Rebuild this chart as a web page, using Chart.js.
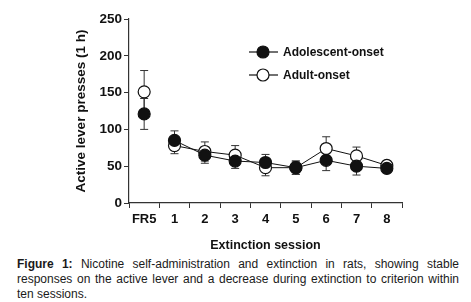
<!DOCTYPE html>
<html>
<head>
<meta charset="utf-8">
<script src="https://cdn.jsdelivr.net/npm/chart.js@4/dist/chart.umd.min.js"></script>
<style>
    html, body {margin: 0; padding: 0; background: #fff;}
    #wrap {position: relative; width: 471px; height: 302px; overflow: hidden;}
    #chart-box {position: absolute; left: 0; top: 0; width: 471px; height: 257px;}
    .caption {position: absolute; left: 17px; width: 442px; font: 12px "Liberation Sans", Arial, sans-serif; color: #1a1a1a;}
    .caption div {text-align: justify; text-align-last: justify; height: 15px; line-height: 15px; white-space: nowrap;}
    .caption div.last {text-align-last: left;}
</style>
</head>
<body>
<div id="wrap">
    <div id="chart-box"><canvas id="extinction-chart" width="471" height="257"></canvas></div>
    <div class="caption" style="top: 257px;">
        <div><b>Figure 1:</b> Nicotine self-administration and extinction in rats, showing stable</div>
        <div>responses on the active lever and a decrease during extinction to criterion within</div>
        <div class="last">ten sessions.</div>
    </div>
</div>
<script>
    const sessions = ['FR5', '1', '2', '3', '4', '5', '6', '7', '8'];
    const adolescentMean = [121, 85, 65, 57, 55, 48, 58, 50, 47];
    const adolescentSem = [21, 13, 11, 10, 11, 9, 14, 12, 6];
    const adultMean = [151, 78, 70, 65, 48, 48, 74, 64, 51];
    const adultSem = [29, 11, 13, 13, 11, 9, 16, 12, 6];
    const yTicks = [0, 50, 100, 150, 200, 250];

    const FONT = '"Liberation Sans", Arial, sans-serif';
    const INK = '#111';

    // error bars drawn under the markers
    const errorBars = {
        id: 'errorBars',
        beforeDatasetsDraw(chart) {
            const ctx = chart.ctx;
            const y = chart.scales.y;
            ctx.save();
            ctx.strokeStyle = '#333';
            ctx.lineWidth = 1;
            chart.data.datasets.forEach((ds, i) => {
                const meta = chart.getDatasetMeta(i);
                meta.data.forEach((pt, j) => {
                    const top = y.getPixelForValue(ds.data[j] + ds.sem[j]);
                    const bot = y.getPixelForValue(ds.data[j] - ds.sem[j]);
                    ctx.beginPath();
                    ctx.moveTo(pt.x, top);
                    ctx.lineTo(pt.x, bot);
                    ctx.moveTo(pt.x - 4, top);
                    ctx.lineTo(pt.x + 4, top);
                    ctx.moveTo(pt.x - 4, bot);
                    ctx.lineTo(pt.x + 4, bot);
                    ctx.stroke();
                });
            });
            ctx.restore();
        }
    };

    // legend inside the plot, like the figure
    const insideLegend = {
        id: 'insideLegend',
        afterDraw(chart) {
            const ctx = chart.ctx;
            ctx.save();
            chart.data.datasets.forEach((ds, i) => {
                const cy = 52 + i * 23;
                ctx.strokeStyle = INK;
                ctx.lineWidth = 1.2;
                ctx.beginPath();
                ctx.moveTo(249, cy);
                ctx.lineTo(278, cy);
                ctx.stroke();
                ctx.beginPath();
                ctx.arc(263, cy, 6, 0, Math.PI * 2);
                ctx.fillStyle = ds.pointBackgroundColor;
                ctx.fill();
                ctx.stroke();
                ctx.fillStyle = INK;
                ctx.font = 'bold 12px ' + FONT;
                ctx.textBaseline = 'middle';
                ctx.fillText(ds.label, 283, cy + 1);
            });
            ctx.restore();
        }
    };

    const skipFirst = c => c.p0DataIndex === 0 ? 'rgba(0,0,0,0)' : INK;

    const config = {
        type: 'line',
        data: {
            labels: sessions,
            datasets: [
                {
                    label: 'Adolescent-onset',
                    data: adolescentMean,
                    sem: adolescentSem,
                    borderColor: INK,
                    borderWidth: 1,
                    pointRadius: 6,
                    pointBorderWidth: 1.2,
                    pointBorderColor: INK,
                    pointBackgroundColor: '#111',
                    segment: {borderColor: skipFirst},
                    tension: 0
                },
                {
                    label: 'Adult-onset',
                    data: adultMean,
                    sem: adultSem,
                    borderColor: INK,
                    borderWidth: 1,
                    pointRadius: 6,
                    pointBorderWidth: 1.2,
                    pointBorderColor: INK,
                    pointBackgroundColor: '#fff',
                    segment: {borderColor: skipFirst},
                    tension: 0
                }
            ]
        },
        options: {
            responsive: false,
            animation: false,
            layout: {padding: {left: 69, right: 69, top: 19, bottom: 0}},
            plugins: {
                legend: {display: false},
                tooltip: {enabled: false}
            },
            scales: {
                x: {
                    offset: true,
                    grid: {
                        display: true,
                        offset: true,
                        drawOnChartArea: false,
                        drawTicks: true,
                        tickLength: 5,
                        color: '#333',
                        lineWidth: 1
                    },
                    border: {display: true, color: '#333', width: 1.2},
                    ticks: {
                        color: INK,
                        padding: 4,
                        autoSkip: false,
                        maxRotation: 0,
                        minRotation: 0,
                        font: {family: FONT, size: 13, weight: 'bold'}
                    },
                    title: {
                        display: true,
                        text: 'Extinction session',
                        color: INK,
                        padding: {top: 4, bottom: 4},
                        font: {family: FONT, size: 12.5, weight: 'bold'}
                    },
                    afterFit: s => { s.height = 54; }
                },
                y: {
                    min: 0,
                    max: 250,
                    afterBuildTicks: s => { s.ticks = yTicks.map(v => ({value: v})); },
                    grid: {
                        display: true,
                        drawOnChartArea: false,
                        drawTicks: true,
                        tickLength: 5,
                        color: '#333',
                        lineWidth: 1
                    },
                    border: {display: true, color: '#333', width: 1.2},
                    ticks: {
                        color: INK,
                        padding: 2,
                        font: {family: FONT, size: 13.5, weight: 'bold'}
                    },
                    title: {
                        display: true,
                        text: 'Active lever presses (1 h)',
                        color: INK,
                        padding: {top: 4, bottom: 4},
                        font: {family: FONT, size: 13.5, weight: 'bold'}
                    },
                    afterFit: s => { s.width = 60; }
                }
            }
        },
        plugins: [errorBars, insideLegend]
    };

    const ctx = document.getElementById('extinction-chart').getContext('2d');
    window.extinctionChart = new Chart(ctx, config);
</script>
</body>
</html>
